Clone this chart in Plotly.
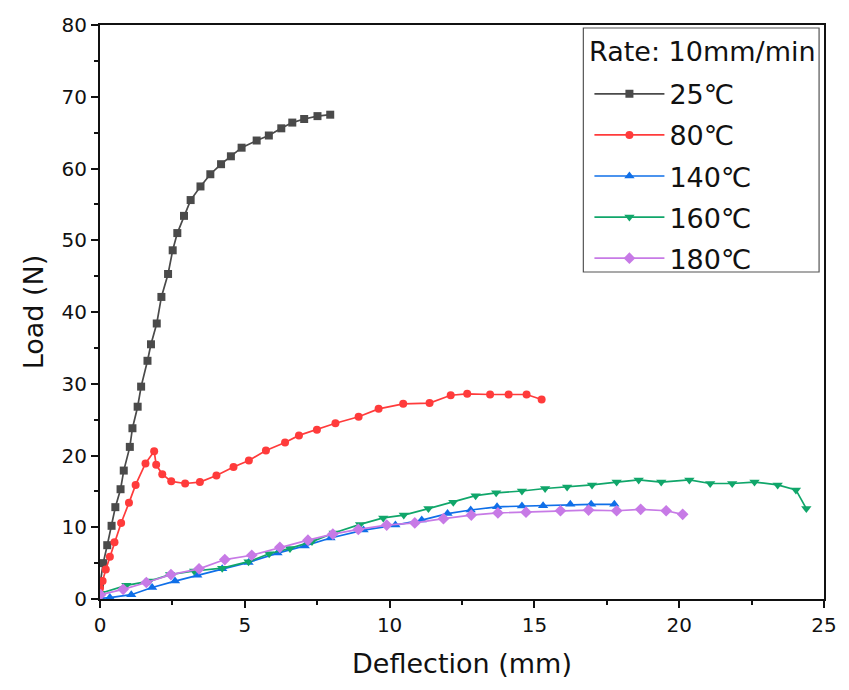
import plotly.graph_objects as go

# Load-deflection curves at a crosshead rate of 10 mm/min
x_25 = [0, 0.11, 0.25, 0.40, 0.53, 0.71, 0.82, 1.03, 1.12, 1.30, 1.42, 1.64, 1.76, 1.96, 2.12, 2.35,
        2.51, 2.67, 2.90, 3.13, 3.47, 3.81, 4.18, 4.52, 4.89, 5.41, 5.83, 6.26, 6.64, 7.05, 7.51, 7.95]
y_25 = [2.0, 5.0, 7.5, 10.2, 12.8, 15.3, 17.9, 21.2, 23.8, 26.8, 29.6, 33.2, 35.5, 38.4, 42.1, 45.3,
        48.6, 51.0, 53.4, 55.6, 57.5, 59.2, 60.6, 61.7, 62.9, 63.9, 64.6, 65.6, 66.4, 66.9, 67.3, 67.5]

x_80 = [0, 0.09, 0.2, 0.34, 0.5, 0.73, 1.0, 1.23, 1.57, 1.87, 1.94, 2.15, 2.46, 2.94, 3.45, 4.02, 4.61,
        5.14, 5.73, 6.39, 6.87, 7.49, 8.13, 8.93, 9.62, 10.47, 11.38, 12.11, 12.68, 13.47, 14.11, 14.73, 15.25]
y_80 = [1.5, 2.5, 4.1, 5.9, 7.9, 10.6, 13.4, 15.9, 18.9, 20.6, 18.7, 17.4, 16.4, 16.1, 16.3, 17.2, 18.4,
        19.3, 20.7, 21.8, 22.8, 23.6, 24.5, 25.4, 26.5, 27.2, 27.3, 28.4, 28.6, 28.5, 28.5, 28.5, 27.8]

x_140 = [0.03, 0.34, 1.08, 1.8, 2.59, 3.36, 4.22, 5.13, 6.13, 7.07, 7.96, 9.1, 10.2, 11.11, 12.0, 12.8,
         13.71, 14.57, 15.3, 16.24, 16.96, 17.76]
y_140 = [0.1, 0.2, 0.6, 1.6, 2.5, 3.3, 4.2, 5.1, 6.4, 7.4, 8.5, 9.6, 10.3, 11.0, 11.9, 12.4,
         12.85, 12.95, 13.0, 13.2, 13.2, 13.2]

x_160 = [0.02, 0.91, 1.71, 2.42, 3.25, 4.22, 5.13, 5.84, 6.56, 7.32, 8.07, 8.98, 9.78, 10.49, 11.34, 12.2,
         12.97, 13.68, 14.57, 15.37, 16.13, 16.99, 17.84, 18.6, 19.38, 20.35, 21.07, 21.83, 22.6, 23.4,
         24.03, 24.39]
y_160 = [0.8, 1.9, 2.5, 3.4, 3.9, 4.3, 5.2, 6.3, 7.05, 8.0, 9.2, 10.4, 11.3, 11.7, 12.6, 13.5,
         14.4, 14.8, 15.05, 15.4, 15.6, 15.9, 16.3, 16.6, 16.3, 16.6, 16.1, 16.1, 16.3, 15.9,
         15.2, 12.6]

x_180 = [0.02, 0.8, 1.6, 2.45, 3.42, 4.31, 5.24, 6.21, 7.18, 8.04, 8.92, 9.9, 10.87, 11.86, 12.82,
         13.74, 14.71, 15.9, 16.87, 17.84, 18.67, 19.55, 20.12]
y_180 = [0.6, 1.35, 2.3, 3.4, 4.2, 5.5, 6.1, 7.2, 8.2, 9.05, 9.7, 10.3, 10.6, 11.2, 11.7,
         12.0, 12.1, 12.3, 12.4, 12.3, 12.5, 12.3, 11.8]

legend_heading = "Rate: 10mm/min"

series = [
    ("25℃", x_25, y_25, "#4a4a4a", "square", 8),
    ("80℃", x_80, y_80, "#ff3b3b", "circle", 8),
    ("140℃", x_140, y_140, "#0f6fe8", "triangle-up", 9),
    ("160℃", x_160, y_160, "#10a66a", "triangle-down", 9),
    ("180℃", x_180, y_180, "#c77ae6", "diamond", 9),
]

fig = go.Figure()
for name, xs, ys, color, sym, msize in series:
    fig.add_trace(go.Scatter(
        x=xs, y=ys, name=name, mode="lines+markers", legendgroup=name,
        line=dict(color=color, width=1.7),
        marker=dict(symbol=sym, size=msize, color=color),
    ))

SANS = "DejaVu Sans, Liberation Sans, sans-serif"
axis_font = dict(family=SANS, size=20, color="#111")
title_font = dict(family=SANS, size=27, color="#111")

# framed legend panel with its heading
fig.add_shape(type="rect", xref="paper", yref="paper",
              x0=0.6676, x1=0.9932, y0=0.5697, y1=0.9948,
              line=dict(color="#555", width=1.2), fillcolor="white", layer="below")
fig.add_annotation(text=legend_heading, xref="paper", yref="paper",
                   x=0.8317, y=0.953, xanchor="center", yanchor="middle",
                   showarrow=False, font=dict(family=SANS, size=27, color="#111"))

fig.update_layout(
    width=849, height=690,
    margin=dict(l=100, r=18, t=25, b=91),
    plot_bgcolor="white", paper_bgcolor="white",
    showlegend=True,
    legend=dict(
        x=0.676, y=0.922, xanchor="left", yanchor="top",
        bgcolor="rgba(0,0,0,0)", borderwidth=0,
        font=dict(family="DejaVu Sans, Noto Sans CJK SC, sans-serif", size=27, color="#111"),
        itemwidth=70, tracegroupgap=3,
    ),
    xaxis=dict(
        range=[0, 25], dtick=5, tick0=0,
        showgrid=False, zeroline=False,
        showline=True, linecolor="#111", linewidth=2, mirror=True,
        ticks="outside", ticklen=7, tickwidth=2, tickcolor="#111",
        minor=dict(dtick=2.5, ticks="outside", ticklen=4, tickwidth=1.5, tickcolor="#111"),
        tickfont=axis_font,
        title=dict(text="Deflection (mm)", standoff=18, font=title_font),
    ),
    yaxis=dict(
        range=[0, 80], dtick=10, tick0=0,
        showgrid=False, zeroline=False,
        showline=True, linecolor="#111", linewidth=2, mirror=True,
        ticks="outside", ticklen=7, tickwidth=2, tickcolor="#111",
        minor=dict(dtick=5, ticks="outside", ticklen=4, tickwidth=1.5, tickcolor="#111"),
        tickfont=axis_font,
        title=dict(text="Load (N)", standoff=10, font=title_font),
    ),
)

fig.write_html("out.html")
